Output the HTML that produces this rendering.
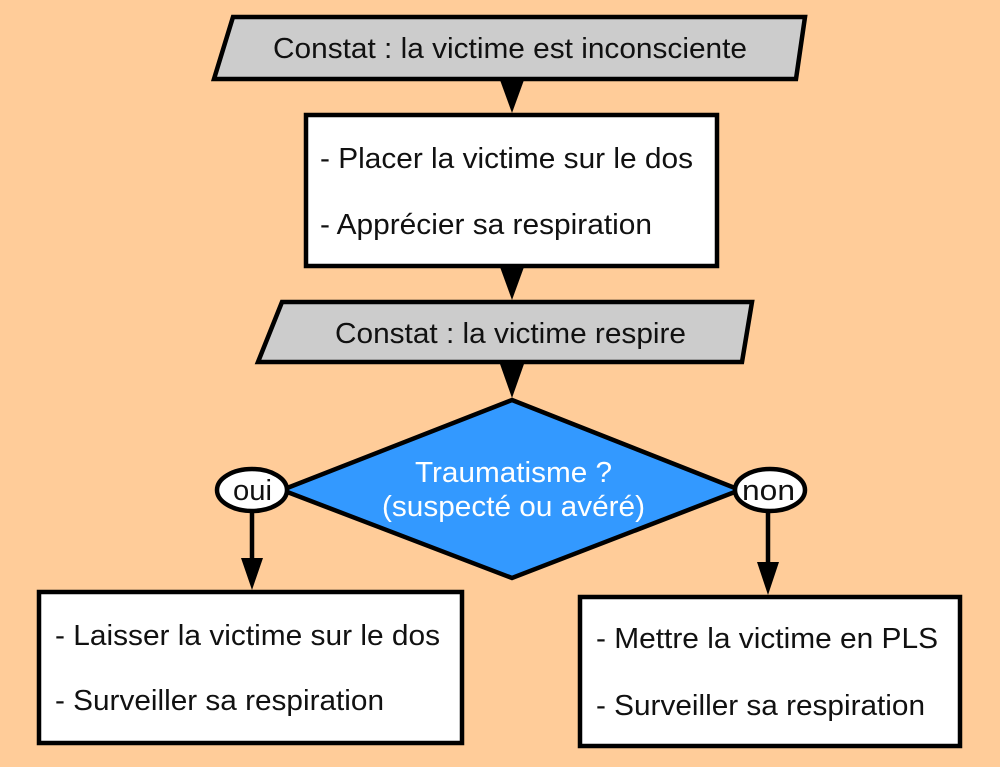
<!DOCTYPE html>
<html><head><meta charset="utf-8"><style>
html,body{margin:0;padding:0;background:#ffcc99;}
svg{display:block}
text{font-family:"Liberation Sans",sans-serif;font-size:28.5px;fill:#111;}
</style></head><body>
<svg width="1000" height="767" viewBox="0 0 1000 767" xmlns="http://www.w3.org/2000/svg">
<rect width="1000" height="767" fill="#ffcc99"/>
<g stroke="#000" stroke-width="4.5" stroke-linejoin="miter">
<polygon points="233,17 805,17 796,79 214,79" fill="#cccccc"/>
<rect x="306" y="115" width="411" height="151" fill="#fff"/>
<polygon points="282,302 752,302 742,362 258,362" fill="#cccccc"/>
<polygon points="512,400 740,490 512,578 282,490" fill="#3399ff"/>
<rect x="39" y="592" width="423" height="151" fill="#fff"/>
<rect x="580" y="597" width="380" height="149" fill="#fff"/>
<line x1="252" y1="510" x2="252" y2="562"/>
<line x1="768" y1="510" x2="768" y2="566"/>
<ellipse cx="252" cy="490" rx="35" ry="21" fill="#fff"/>
<ellipse cx="770" cy="490" rx="35" ry="21" fill="#fff"/>
</g>
<g fill="#000">
<polygon points="500,80 524,80 512,113"/>
<polygon points="500,267 524,267 512,300"/>
<polygon points="500,364 524,364 512,398"/>
<polygon points="241,558 263,558 252,590"/>
<polygon points="757,562 779,562 768,595"/>
</g>
<text x="273" y="58" textLength="474" lengthAdjust="spacingAndGlyphs">Constat : la victime est inconsciente</text>
<text x="320" y="168" textLength="373" lengthAdjust="spacingAndGlyphs">- Placer la victime sur le dos</text>
<text x="320" y="234" textLength="332" lengthAdjust="spacingAndGlyphs">- Apprécier sa respiration</text>
<text x="335" y="343" textLength="351" lengthAdjust="spacingAndGlyphs">Constat : la victime respire</text>
<text x="415" y="482" textLength="197" lengthAdjust="spacingAndGlyphs" style="fill:#fff">Traumatisme ?</text>
<text x="382" y="516" textLength="263" lengthAdjust="spacingAndGlyphs" style="fill:#fff">(suspecté ou avéré)</text>
<text x="233" y="500" textLength="39" lengthAdjust="spacingAndGlyphs">oui</text>
<text x="742" y="500" textLength="53" lengthAdjust="spacingAndGlyphs">non</text>
<text x="55" y="645" textLength="385" lengthAdjust="spacingAndGlyphs">- Laisser la victime sur le dos</text>
<text x="55" y="710" textLength="329" lengthAdjust="spacingAndGlyphs">- Surveiller sa respiration</text>
<text x="596" y="648" textLength="342" lengthAdjust="spacingAndGlyphs">- Mettre la victime en PLS</text>
<text x="596" y="715" textLength="329" lengthAdjust="spacingAndGlyphs">- Surveiller sa respiration</text>
</svg>
</body></html>
